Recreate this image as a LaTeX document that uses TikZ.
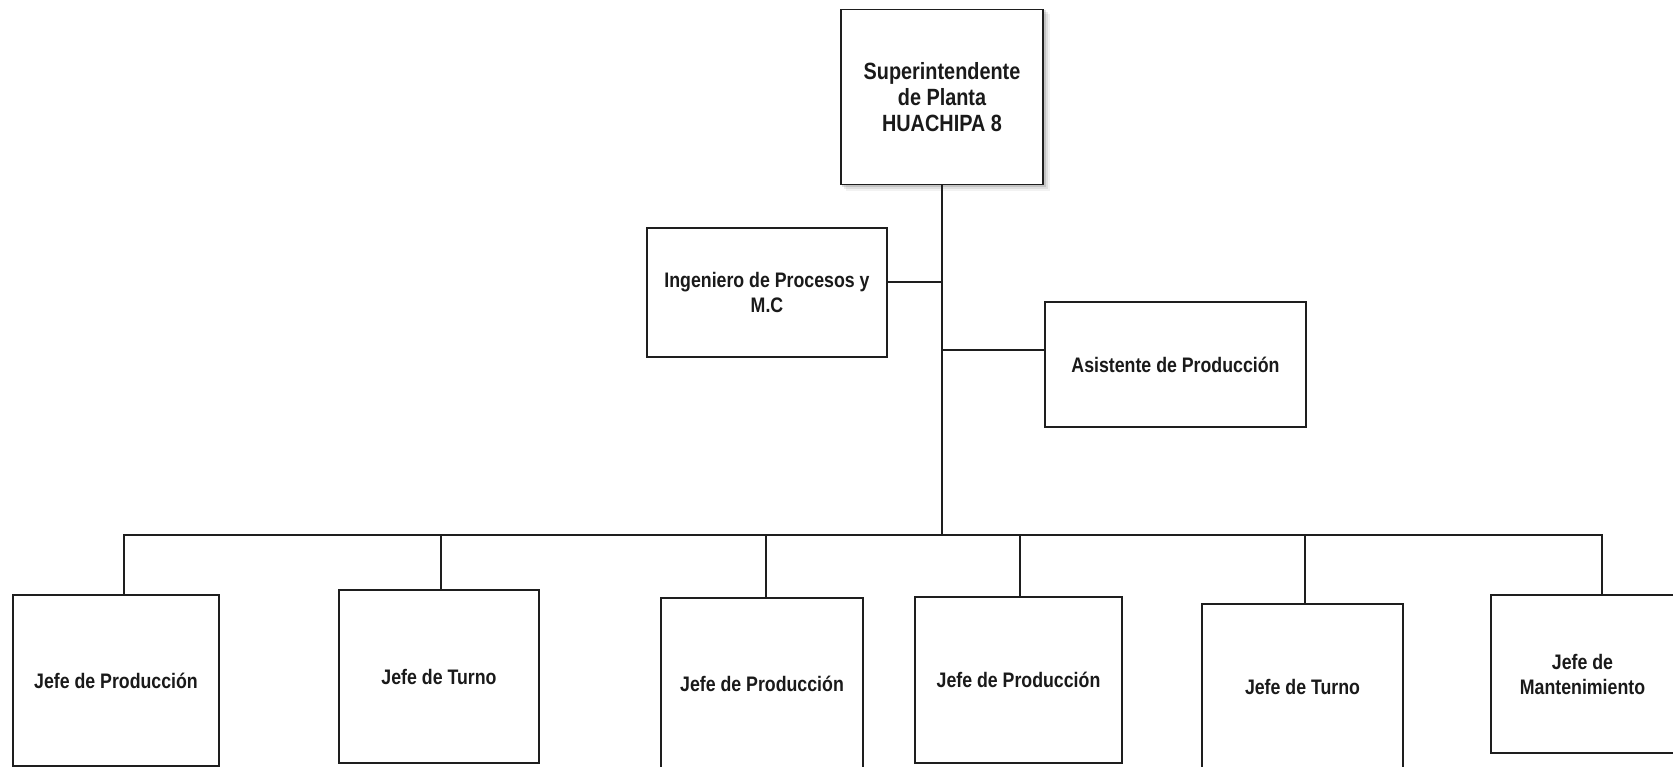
\documentclass[tikz,border=0pt]{standalone}
\usepackage{fontspec}
\newfontfamily\boxfont[FakeStretch=0.845]{Liberation Sans}
\begin{document}
\begin{tikzpicture}[x=1pt,y=-1pt,
  every node/.style={inner sep=0pt, outer sep=0pt},
  orgbox/.style={draw=linecol, line width=1.8pt, fill=white, align=center,
    font=\boxfont\bfseries\fontsize{21}{25}\selectfont, text=textcol},
  headbox/.style={orgbox, font=\boxfont\bfseries\fontsize{23.5}{26}\selectfont},
  link/.style={draw=linecol, line width=1.8pt}]
\definecolor{linecol}{HTML}{1E1E1E}
\definecolor{textcol}{HTML}{1A1A1A}
% page frame
\fill[white] (0,0) rectangle (1673,767);
\useasboundingbox (0,0) rectangle (1673,767);

% soft shadow under the top box
\foreach \s/\o in {7/0.05,5/0.08,3/0.12}{
  \fill[black, opacity=\o] (841+\s-2,9+\s-2) rectangle (1043+\s,184+\s);
}

% boxes
\node[headbox, minimum width=202pt, minimum height=175pt] (sup) at (942,97)
  {Superintendente\\de Planta\\HUACHIPA 8};
\node[orgbox, minimum width=240pt, minimum height=129pt] (ing) at (767,292.5)
  {Ingeniero de Procesos y\\M.C};
\node[orgbox, minimum width=261pt, minimum height=125pt] (asi) at (1175.5,364.5)
  {Asistente de Producción};
\node[orgbox, minimum width=206pt, minimum height=171pt] (j1) at (116,680.5)
  {Jefe de Producción};
\node[orgbox, minimum width=200pt, minimum height=173pt] (j2) at (439,676.5)
  {Jefe de Turno};
\node[orgbox, minimum width=202pt, minimum height=171pt] (j3) at (762,683.5)
  {Jefe de Producción};
\node[orgbox, minimum width=207pt, minimum height=166pt] (j4) at (1018.5,680)
  {Jefe de Producción};
\node[orgbox, minimum width=201pt, minimum height=165pt] (j5) at (1302.5,686.5)
  {Jefe de Turno};
\node[orgbox, minimum width=183pt, minimum height=158pt] (j6) at (1582.5,674)
  {Jefe de\\Mantenimiento};

% junction points on the trunk and on the bus
\coordinate (tIng) at (942,282);
\coordinate (tAsi) at (942,350);
\coordinate (bus) at (942,535);
\coordinate (b1) at (124,535);
\coordinate (b2) at (441,535);
\coordinate (b3) at (766,535);
\coordinate (b4) at (1020,535);
\coordinate (b5) at (1305,535);
\coordinate (b6) at (1602,535);

% trunk and staff branches
\draw[link] (sup.south) -- (bus);
\draw[link] (ing.east |- tIng) -- (tIng);
\draw[link] (tAsi) -- (asi.west |- tAsi);

% bus and drops to the chiefs
\draw[link, line cap=rect] (b1) -- (b6);
\draw[link] (b1) -- (b1 |- j1.north);
\draw[link] (b2) -- (b2 |- j2.north);
\draw[link] (b3) -- (b3 |- j3.north);
\draw[link] (b4) -- (b4 |- j4.north);
\draw[link] (b5) -- (b5 |- j5.north);
\draw[link] (b6) -- (b6 |- j6.north);
\end{tikzpicture}
\end{document}
